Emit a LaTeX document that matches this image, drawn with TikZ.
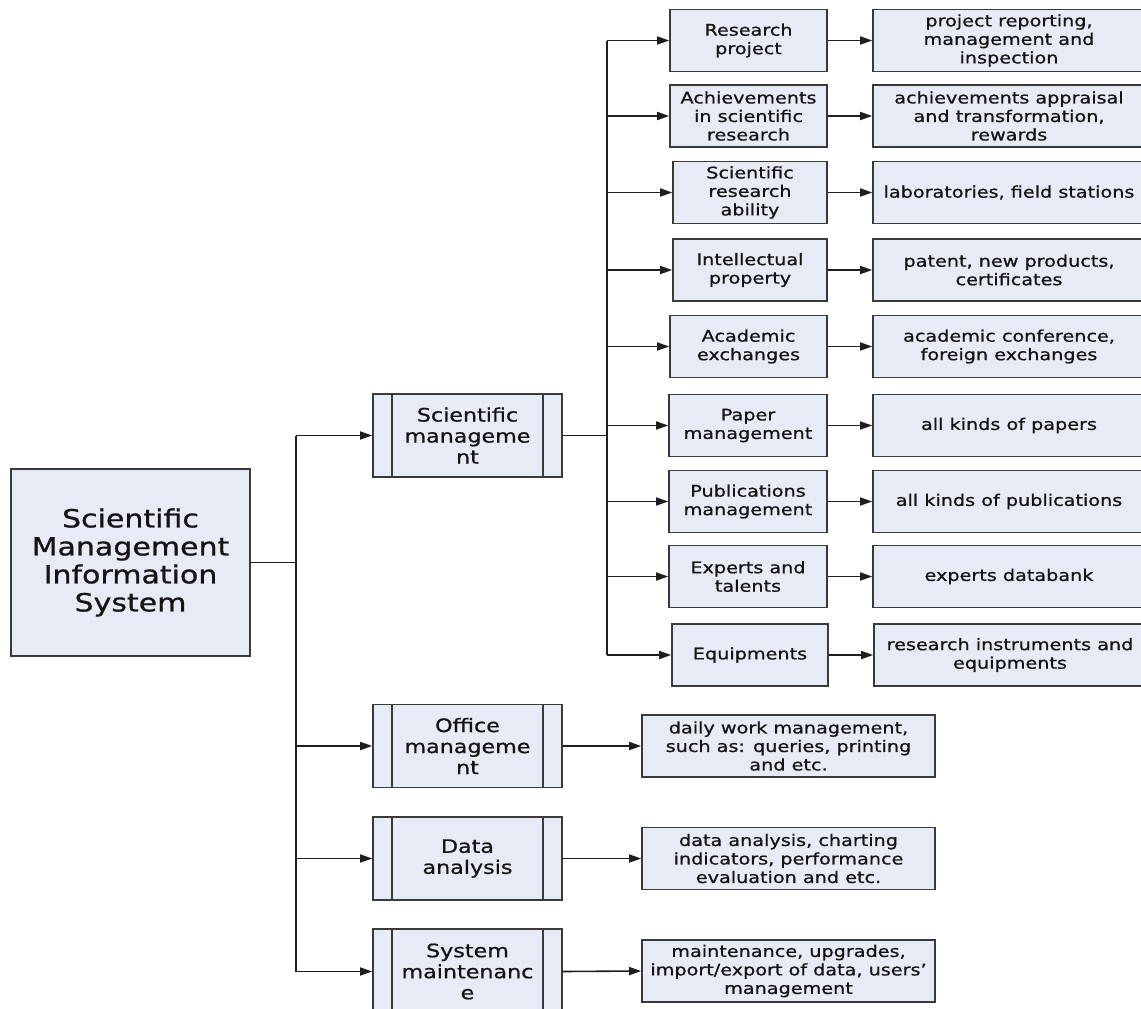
\documentclass[tikz,border=0pt]{standalone}
\usepackage{fontspec}
\setmainfont[FakeStretch=1.2,FakeBold=0.8]{DejaVu Sans}
\usetikzlibrary{arrows.meta}
\definecolor{boxfill}{HTML}{E6EBF5}
\definecolor{boxline}{HTML}{3A3A3A}
\definecolor{wirec}{HTML}{1E1E1E}
\definecolor{ink}{HTML}{141414}
\begin{document}
\begin{tikzpicture}[x=1pt,y=-1pt,
  box/.style={draw=boxline, line width=1.6pt, fill=boxfill, inner sep=0pt,
    align=center, text=ink},
  txs/.style={font=\fontsize{16}{18.5}\selectfont},
  txm/.style={font=\fontsize{18.5}{21}\selectfont},
  txl/.style={font=\fontsize{25}{28}\selectfont},
  proc/.style={box, txm, minimum width=189pt, minimum height=83pt,
    path picture={\draw[boxline, line width=1.6pt]
      ([xshift=19pt]path picture bounding box.north west) --
      ([xshift=19pt]path picture bounding box.south west)
      ([xshift=-19pt]path picture bounding box.north east) --
      ([xshift=-19pt]path picture bounding box.south east);}},
  item/.style={box, txs, minimum height=62pt},
  detail/.style={box, txs, minimum width=272pt, minimum height=62pt},
  result/.style={box, txs, minimum width=293pt, minimum height=62pt},
  wire/.style={draw=wirec, line width=1.6pt},
  arr/.style={wire, -{Triangle[length=12pt,width=8pt]}},
]
\useasboundingbox (0,0) rectangle (1141,1009);
\clip (0,0) rectangle (1141,1009);
\fill[white] (0,0) rectangle (1141,1009);

% root of the tree
\node[box, txl, minimum width=239pt, minimum height=187pt] (root) at (130.5,562.5)
  {Scientific\\Management\\Information\\System};

% second level: predefined-process boxes
\node[proc] (sm)  at (467.5,435.5) {Scientific\\manageme\\nt};
\node[proc] (om)  at (467.5,746)   {Office\\manageme\\nt};
\node[proc] (da)  at (467.5,858.5) {Data\\analysis};
\node[proc, minimum height=85pt] (smt) at (467.5,971.5) {System\\maintenanc\\e};

% third level under scientific management
\node[item, minimum width=157pt] (r1) at (748.5,40.5)  {Research\\project};
\node[item, minimum width=157pt] (r2) at (748.5,116)   {Achievements\\in scientific\\research};
\node[item, minimum width=154pt] (r3) at (750,192.5)   {Scientific\\research\\ability};
\node[item, minimum width=154pt] (r4) at (750,270)     {Intellectual\\property};
\node[item, minimum width=157pt] (r5) at (748.5,346.5) {Academic\\exchanges};
\node[item, minimum width=158pt] (r6) at (748,425.5)   {Paper\\management};
\node[item, minimum width=158pt] (r7) at (748,501.5)   {Publications\\management};
\node[item, minimum width=158pt] (r8) at (748,576.5)   {Experts and\\talents};
\node[item, minimum width=156pt] (r9) at (750,655)     {Equipments};

% details of each item
\node[detail] (d1) at (1009,40.5)  {project reporting,\\management and\\inspection};
\node[detail] (d2) at (1009,116)   {achievements appraisal\\and transformation,\\rewards};
\node[detail] (d3) at (1009,192.5) {laboratories, field stations};
\node[detail] (d4) at (1009,270)   {patent, new products,\\certificates};
\node[detail] (d5) at (1009,346.5) {academic conference,\\foreign exchanges};
\node[detail] (d6) at (1009,425.5) {all kinds of papers};
\node[detail] (d7) at (1009,501.5) {all kinds of publications};
\node[detail] (d8) at (1009,576.5) {experts databank};
\node[detail] (d9) at (1010,655)   {research instruments and\\equipments};

% details of the other second-level boxes
\node[result] (om2)  at (788.5,746)   {daily work management,\\such as: queries, printing\\and etc.};
\node[result] (da2)  at (788.5,858.5) {data analysis, charting\\indicators, performance\\evaluation and etc.};
\node[result] (smt2) at (788.5,971)   {maintenance, upgrades,\\import/export of data, users'\\management};

% bus lines
\coordinate (mainbus) at (296,0);
\coordinate (rbus) at (607,0);

\draw[wire] (root.east) -- (root.east -| mainbus);
\draw[wire] (sm.west -| mainbus) -- (smt.west -| mainbus);
\foreach \n in {sm,om,da,smt}
  \draw[arr] (\n.west -| mainbus) -- (\n.west);

\draw[wire] (sm.east) -- (sm.east -| rbus);
\draw[wire] (r1.west -| rbus) -- (r9.west -| rbus);
\foreach \i in {1,...,9} {
  \draw[arr] (r\i.west -| rbus) -- (r\i.west);
  \draw[arr] (r\i.east) -- (d\i.west);
}

\draw[arr] (om.east) -- (om2.west);
\draw[arr] (da.east) -- (da2.west);
\draw[arr] (smt.east) -- (smt2.west);
\end{tikzpicture}
\end{document}
